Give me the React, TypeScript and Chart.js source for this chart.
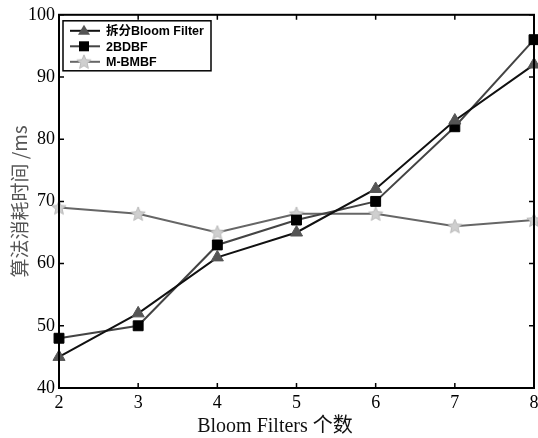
import React, { useEffect, useRef } from "react";
import { Chart, registerables } from "chart.js";

Chart.register(...registerables);

const xLabels = ["2", "3", "4", "5", "6", "7", "8"];
const seriesNames = ["拆分Bloom Filter", "2BDBF", "M-BMBF"];
const splitBloom = [45, 52, 61, 65, 72, 83, 92];
const bdbf = [48, 50, 63, 67, 70, 82, 96];
const mbmbf = [69, 68, 65, 68, 68, 66, 67];
const yTicks = [40, 50, 60, 70, 80, 90, 100];
const xTitle = "Bloom Filters 个数";
const yTitle = "算法消耗时间 /ms";

function makeStar(size: number, fill: string, stroke: string) {
  const c = document.createElement("canvas");
  c.width = size;
  c.height = size;
  const ctx = c.getContext("2d")!;
  const cx = size / 2;
  const cy = size / 2 + 0.5;
  const R = size / 2 - 0.5;
  const r = R * 0.45;
  ctx.beginPath();
  for (let i = 0; i < 10; i++) {
    const ang = -Math.PI / 2 + (i * Math.PI) / 5;
    const rad = i % 2 === 0 ? R : r;
    const x = cx + rad * Math.cos(ang);
    const y = cy + rad * Math.sin(ang);
    if (i === 0) ctx.moveTo(x, y);
    else ctx.lineTo(x, y);
  }
  ctx.closePath();
  ctx.fillStyle = fill;
  ctx.fill();
  ctx.strokeStyle = stroke;
  ctx.lineWidth = 0.8;
  ctx.stroke();
  return c;
}

export default function App() {
  const ref = useRef<HTMLCanvasElement | null>(null);

  useEffect(() => {
    if (!ref.current) return;
    const star = makeStar(16, "#cfcfcf", "#b0b0b0");

    const frameAndLegend = {
      id: "frameAndLegend",
      afterDraw(chart: any) {
        const ctx = chart.ctx;
        const a = chart.chartArea;
        const xs = chart.scales.x;
        const ys = chart.scales.y;
        ctx.save();
        // frame
        ctx.strokeStyle = "#000";
        ctx.lineWidth = 2;
        ctx.strokeRect(a.left, a.top, a.right - a.left, a.bottom - a.top);
        // inward ticks
        ctx.lineWidth = 1.5;
        const tl = 5;
        ctx.beginPath();
        xLabels.forEach((_, i) => {
          const px = xs.getPixelForValue(i);
          ctx.moveTo(px, a.bottom);
          ctx.lineTo(px, a.bottom - tl);
          ctx.moveTo(px, a.top);
          ctx.lineTo(px, a.top + tl);
        });
        yTicks.forEach((v) => {
          const py = ys.getPixelForValue(v);
          ctx.moveTo(a.left, py);
          ctx.lineTo(a.left + tl, py);
          ctx.moveTo(a.right, py);
          ctx.lineTo(a.right - tl, py);
        });
        ctx.stroke();

        // legend
        const lx = a.left + 4;
        const ly = a.top + 6;
        const lw = 148;
        const lh = 50;
        ctx.fillStyle = "#fff";
        ctx.fillRect(lx, ly, lw, lh);
        ctx.strokeStyle = "#000";
        ctx.lineWidth = 1.5;
        ctx.strokeRect(lx, ly, lw, lh);
        const rows = [
          { line: "#111", marker: "tri", color: "#555" },
          { line: "#444", marker: "sq", color: "#000" },
          { line: "#666", marker: "star", color: "#ccc" },
        ];
        rows.forEach((r, i) => {
          const y = ly + 10 + i * 15.5;
          ctx.strokeStyle = r.line;
          ctx.lineWidth = 2;
          ctx.beginPath();
          ctx.moveTo(lx + 7, y);
          ctx.lineTo(lx + 37, y);
          ctx.stroke();
          const mx = lx + 21;
          if (r.marker === "tri") {
            ctx.fillStyle = r.color;
            ctx.beginPath();
            ctx.moveTo(mx, y - 6);
            ctx.lineTo(mx + 6, y + 4);
            ctx.lineTo(mx - 6, y + 4);
            ctx.closePath();
            ctx.fill();
          } else if (r.marker === "sq") {
            ctx.fillStyle = r.color;
            ctx.fillRect(mx - 5, y - 5, 10, 10);
          } else {
            ctx.drawImage(star, mx - 8, y - 8);
          }
          ctx.fillStyle = "#000";
          ctx.font = "bold 12.5px 'Liberation Sans', 'Noto Sans CJK SC', sans-serif";
          ctx.textBaseline = "middle";
          ctx.textAlign = "left";
          ctx.fillText(seriesNames[i], lx + 43, y + 1);
        });

        // axis titles
        ctx.fillStyle = "#111";
        ctx.font = "20px 'Liberation Serif', 'Noto Sans CJK SC', serif";
        ctx.textAlign = "center";
        ctx.textBaseline = "middle";
        ctx.fillText(xTitle, 275, 427);

        ctx.save();
        ctx.translate(20, (a.top + a.bottom) / 2);
        ctx.rotate(-Math.PI / 2);
        ctx.fillStyle = "#555";
        ctx.font = "19px 'Noto Sans CJK SC', 'Liberation Serif', serif";
        ctx.fillText(yTitle, 0, 0);
        ctx.restore();

        ctx.restore();
      },
    };

    const chart = new Chart(ref.current, {
      type: "line",
      data: {
        labels: xLabels,
        datasets: [
          {
            label: seriesNames[0],
            data: splitBloom,
            borderColor: "#111",
            borderWidth: 2,
            backgroundColor: "#555",
            pointBackgroundColor: "#555",
            pointBorderColor: "#555",
            pointStyle: "triangle",
            pointRadius: 7,
            pointBorderWidth: 1,
            tension: 0,
          },
          {
            label: seriesNames[1],
            data: bdbf,
            borderColor: "#444",
            borderWidth: 2,
            backgroundColor: "#000",
            pointBackgroundColor: "#000",
            pointBorderColor: "#000",
            pointStyle: "rect",
            pointRadius: 7,
            pointBorderWidth: 1,
            tension: 0,
          },
          {
            label: seriesNames[2],
            data: mbmbf,
            borderColor: "#666",
            borderWidth: 2,
            backgroundColor: "#ccc",
            pointStyle: star as any,
            pointRadius: 8,
            tension: 0,
          },
        ],
      },
      options: {
        animation: false,
        responsive: true,
        maintainAspectRatio: false,
        layout: { padding: { left: 0, top: 13, right: 0, bottom: 0 } },
        plugins: {
          legend: { display: false },
          tooltip: { enabled: false },
        },
        scales: {
          x: {
            offset: false,
            grid: { display: false, drawTicks: false },
            border: { display: false },
            ticks: {
              color: "#000",
              font: { family: "'Liberation Serif', serif", size: 18 },
              padding: 4,
              maxRotation: 0,
              autoSkip: false,
            },
            afterFit(scale: any) {
              scale.height = 50;
            },
          },
          y: {
            min: 40,
            max: 100,
            grid: { display: false, drawTicks: false },
            border: { display: false },
            ticks: {
              stepSize: 10,
              color: "#000",
              font: { family: "'Liberation Serif', serif", size: 18 },
              padding: 4,
            },
            afterFit(scale: any) {
              scale.width = 59;
            },
          },
        },
      },
      plugins: [frameAndLegend],
    });
    return () => chart.destroy();
  }, []);

  return (
    <div style={{ position: "fixed", left: 0, top: 0, width: 538, height: 438, overflow: "hidden", background: "#fff" }}>
      <div style={{ position: "absolute", left: 0, top: 0, width: 544, height: 438 }}>
        <canvas ref={ref} />
      </div>
    </div>
  );
}
